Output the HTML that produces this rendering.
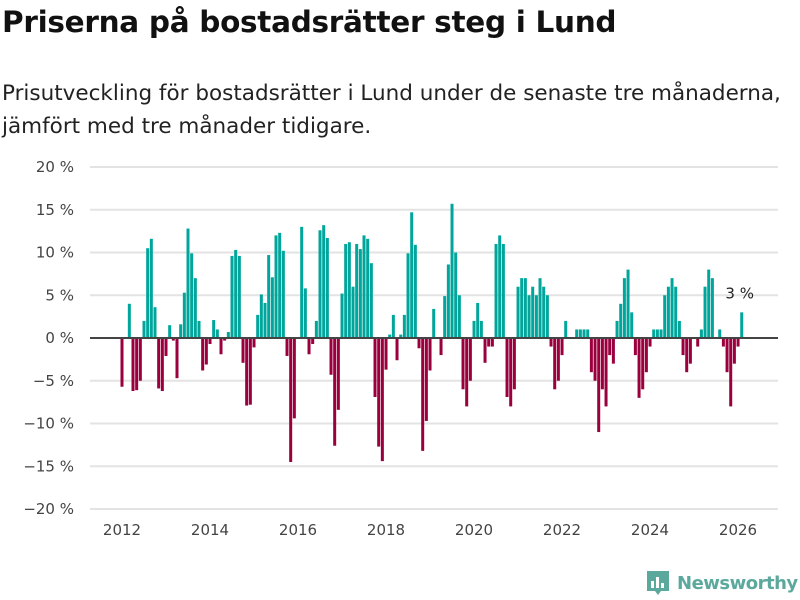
<!DOCTYPE html>
<html><head><meta charset="utf-8"><style>
body{margin:0;background:#fff;width:800px;height:600px;overflow:hidden;font-family:"DejaVu Sans",sans-serif;position:relative}
h1{position:absolute;left:2px;top:5px;margin:0;font-size:29.5px;font-weight:bold;color:#111;letter-spacing:-0.3px;white-space:nowrap}
.sub{position:absolute;left:2px;top:77px;margin:0;font-size:21.5px;line-height:33px;color:#222;white-space:nowrap}
</style></head><body>
<h1>Priserna på bostadsrätter steg i Lund</h1>
<p class="sub">Prisutveckling för bostadsrätter i Lund under de senaste tre månaderna,<br>jämfört med tre månader tidigare.</p>
<svg id="chart" width="800" height="600" style="position:absolute;left:0;top:0"></svg>
<script>
const values=[-5.7,0,4.0,-6.2,-6.1,-5.0,2.0,10.5,11.6,3.6,-5.9,-6.2,-2.1,1.5,-0.3,-4.7,1.6,5.3,12.8,9.9,7.0,2.0,-3.8,-3.1,-0.7,2.1,1.0,-1.9,-0.3,0.7,9.6,10.3,9.6,-2.9,-7.9,-7.8,-1.1,2.7,5.1,4.1,9.7,7.1,12.0,12.3,10.2,-2.1,-14.5,-9.4,0,13.0,5.8,-1.9,-0.7,2.0,12.6,13.2,11.7,-4.3,-12.6,-8.4,5.2,11.0,11.2,6.0,11.0,10.4,12.0,11.6,8.75,-6.9,-12.7,-14.4,-3.7,0.4,2.7,-2.6,0.4,2.7,9.9,14.7,10.9,-1.2,-13.2,-9.7,-3.8,3.4,0,-2.0,4.9,8.6,15.7,10.0,5.0,-6.0,-8.0,-5.0,2.0,4.1,2.0,-2.9,-1.0,-1.0,11.0,12.0,11.0,-6.9,-8.0,-6.0,6.0,7.0,7.0,5.0,6.0,5.0,7.0,6.0,5.0,-1.0,-6.0,-5.0,-2.0,2.0,0,0,1.0,1.0,1.0,1.0,-4.0,-5.0,-11.0,-6.0,-8.0,-2.0,-3.0,2.0,4.0,7.0,8.0,3.0,-2.0,-7.0,-6.0,-4.0,-1.0,1.0,1.0,1.0,5.0,6.0,7.0,6.0,2.0,-2.0,-4.0,-3.0,0,-1.0,1.0,6.0,8.0,7.0,0,1.0,-1.0,-4.0,-8.0,-3.0,-1.0,3.0];
const startYear=2012;
const yTicks=[20,15,10,5,0,-5,-10,-15,-20];
const yTickLabels=["20 %","15 %","10 %","5 %","0 %","−5 %","−10 %","−15 %","−20 %"];
const xTicks=[2012,2014,2016,2018,2020,2022,2024,2026];
const NS="http://www.w3.org/2000/svg",svg=document.getElementById('chart');
const y=v=>338-v*8.55;
const xm=i=>122+i*3.667;
const xy=yr=>122+(yr-2012)*44;
function mk(t,a){const e=document.createElementNS(NS,t);for(const k in a)e.setAttribute(k,a[k]);svg.appendChild(e);return e;}
yTicks.forEach((v,k)=>{
  const g=mk('line',{x1:90,x2:778,y1:y(v),y2:y(v),stroke:'#e3e3e3','stroke-width':2});
  
  
  const t=mk('text',{x:74,y:y(v)+5,'text-anchor':'end','font-size':15,fill:'#444','font-family':'DejaVu Sans, sans-serif'});
  t.textContent=yTickLabels[k];
  
  
});
xTicks.forEach(yr=>{
  const t=mk('text',{x:xy(yr),y:535,'text-anchor':'middle','font-size':15,fill:'#444','font-family':'DejaVu Sans, sans-serif'});
  t.textContent=yr;
  
  
});
values.forEach((v,i)=>{
  if(v===0)return;
  const r=mk('rect',{x:xm(i)-1.5,width:3,y:Math.min(y(v),338),height:Math.abs(y(v)-338),fill:v>0?'#00a59b':'#99003d'});
  
  
});
const z=mk('line',{x1:90,x2:778,y1:338,y2:338,stroke:'#444','stroke-width':2});


const last=values.length-1;
const lab=mk('text',{x:xm(last)-2,y:y(values[last])-14,'text-anchor':'middle','font-size':15,fill:'#222','font-family':'DejaVu Sans, sans-serif'});
lab.textContent=values[last]+' %';


</script>
<div style="position:absolute;left:645px;top:569px;display:flex;align-items:center">
<svg width="26" height="28" viewBox="0 0 26 28"><path d="M2 2h22v20h-8l-3 4-3-4H2z" fill="#5ba99d"/><rect x="6" y="12" width="3" height="7" fill="#fff"/><rect x="11" y="8" width="3" height="11" fill="#fff"/><rect x="16" y="14" width="3" height="5" fill="#fff"/></svg>
<span style="margin-left:6px;font-size:18px;font-weight:bold;color:#5ba99d;letter-spacing:-0.5px">Newsworthy</span>
</div>
</body></html>
